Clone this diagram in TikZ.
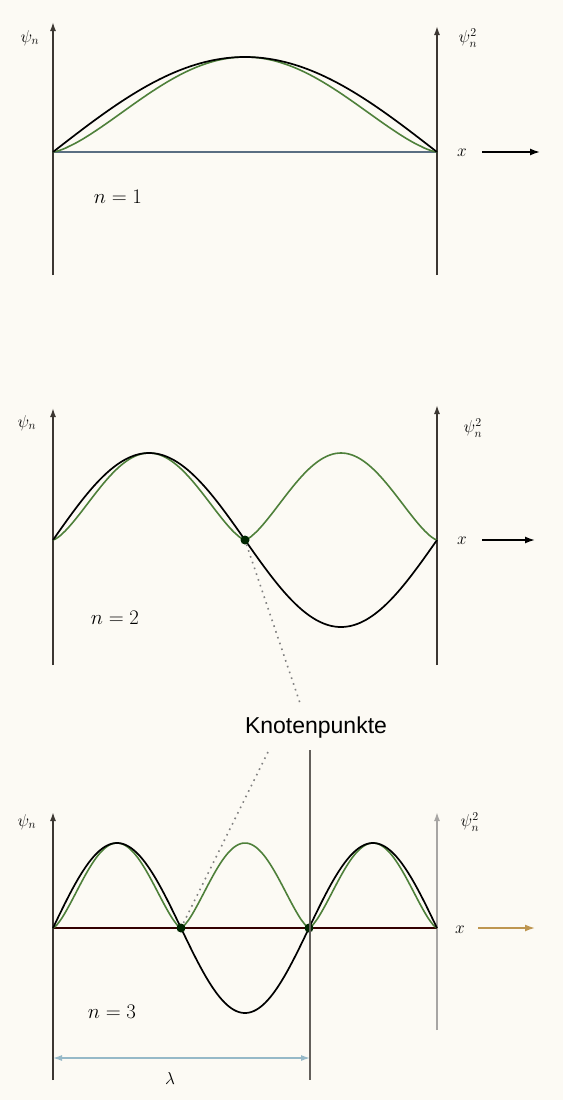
\documentclass[tikz,border=0pt]{standalone}
\usepackage{fontspec}
\setmainfont{Liberation Sans}
\usetikzlibrary{arrows.meta}
\definecolor{paper}{RGB}{252,250,244}
\definecolor{wgreen}{RGB}{78,128,58}
\definecolor{baseblue}{RGB}{90,110,130}
\definecolor{dimblue}{RGB}{150,185,200}
\definecolor{axgray}{RGB}{60,55,50}
\begin{document}
\begin{tikzpicture}[x=1pt,y=-1pt,
  axis/.style={line width=1.6pt,draw=axgray,-{Latex[length=9pt,width=6pt]}},
  psi/.style={line width=1.7pt,black},
  psisq/.style={line width=1.6pt,wgreen},
  lab/.style={font=\fontsize{18}{20}\selectfont,inner sep=0pt},
  nlab/.style={font=\fontsize{20}{22}\selectfont,inner sep=0pt},
  knot/.style={circle,fill=black!85!green,inner sep=0pt,minimum size=9pt},
  xarr/.style={line width=1.6pt,-{Latex[length=10pt,width=7pt]}},
  dotline/.style={line width=1.6pt,gray,dash pattern=on 1.6pt off 4.5pt}]
\useasboundingbox (0,0) rectangle (563,1100);
\fill[paper] (0,0) rectangle (563,1100);

% ---------- panel 1 ----------
\coordinate (a1b) at (53,275); \coordinate (a1t) at (53,22);
\coordinate (b1b) at (437,275); \coordinate (b1t) at (437,26);
\draw[axis] (a1b) -- (a1t);
\draw[axis] (b1b) -- (b1t);
\draw[line width=1.6pt,baseblue] (53,152) -- (437,152);
\draw[psisq] plot[domain=0:180,samples=120] ({53+2.13333*\x},{152-95*abs(sin(\x))^1.4});
\draw[psi] plot[domain=0:180,samples=120] ({53+2.13333*\x},{152-95*sin(\x)});
\node[lab] (psi1) at (30,38) {$\psi_n$};
\node[lab] (sq1) at (468,38) {$\psi_n^2$};
\node[lab] (x1) at (462,153) {$x$};
\coordinate (x1s) at (482,152); \coordinate (x1e) at (540,152);
\draw[xarr] (x1s) -- (x1e);
\node[nlab] (n1) at (118,197) {$n = 1$};

% ---------- panel 2 ----------
\coordinate (a2b) at (53,665); \coordinate (a2t) at (53,408);
\coordinate (b2b) at (437,665); \coordinate (b2t) at (437,405);
\draw[axis] (a2b) -- (a2t);
\draw[axis] (b2b) -- (b2t);
\draw[psisq] plot[domain=0:180,samples=160] ({53+2.13333*\x},{540-87*abs(sin(2*\x))^1.4});
\draw[psi] plot[domain=0:180,samples=160] ({53+2.13333*\x},{540-87*sin(2*\x)});
\node[knot] (k2) at (245,540) {};
\node[lab] (psi2) at (27,423) {$\psi_n$};
\node[lab] (sq2) at (473,428) {$\psi_n^2$};
\node[lab] (x2) at (462,541) {$x$};
\coordinate (x2s) at (482,540); \coordinate (x2e) at (535,540);
\draw[xarr] (x2s) -- (x2e);
\node[nlab] (n2) at (115,618) {$n = 2$};

% ---------- Knotenpunkte ----------
\node[inner sep=0pt,font=\fontsize{23}{26}\selectfont] (kp) at (316,728) {Knotenpunkte};
\coordinate (kp1) at (301,706);
\coordinate (kp2) at (268,752);
\draw[dotline] (k2) -- (kp1);

% ---------- panel 3 ----------
\coordinate (a3b) at (53,1080); \coordinate (a3t) at (53,812);
\coordinate (b3b) at (437,1030); \coordinate (b3t) at (437,812);
\draw[axis] (a3b) -- (a3t);
\draw[axis,draw=axgray!45] (b3b) -- (b3t);
\draw[line width=1.6pt,black!80!red] (53,928) -- (437,928);
\draw[psisq] plot[domain=0:180,samples=200] ({53+2.13333*\x},{928-85*abs(sin(3*\x))^1.4});
\draw[psi] plot[domain=0:180,samples=200] ({53+2.13333*\x},{928-85*sin(3*\x)});
\node[knot] (k3a) at (181,928) {};
\node[knot] (k3b) at (309,928) {};
\draw[dotline] (kp2) -- (k3a);
\node[lab] (psi3) at (27,822) {$\psi_n$};
\node[lab] (sq3) at (470,822) {$\psi_n^2$};
\node[lab] (x3) at (460,930) {$x$};
\coordinate (x3s) at (478,928); \coordinate (x3e) at (535,928);
\draw[xarr,draw={rgb,255:red,190;green,150;blue,80}] (x3s) -- (x3e);
\node[nlab] (n3) at (112,1012) {$n = 3$};

% ---------- lambda ----------
\coordinate (lt) at (310,750); \coordinate (lb) at (310,1080);
\draw[line width=1.2pt,axgray!80] (lt) -- (lb);
\coordinate (l1) at (53,1058); \coordinate (l2) at (310,1058);
\draw[line width=1.3pt,dimblue,{Latex[length=9pt,width=6pt]}-{Latex[length=9pt,width=6pt]}] (l1) -- (l2);
\node[lab] (lam) at (170,1078) {$\lambda$};
\end{tikzpicture}
\end{document}
